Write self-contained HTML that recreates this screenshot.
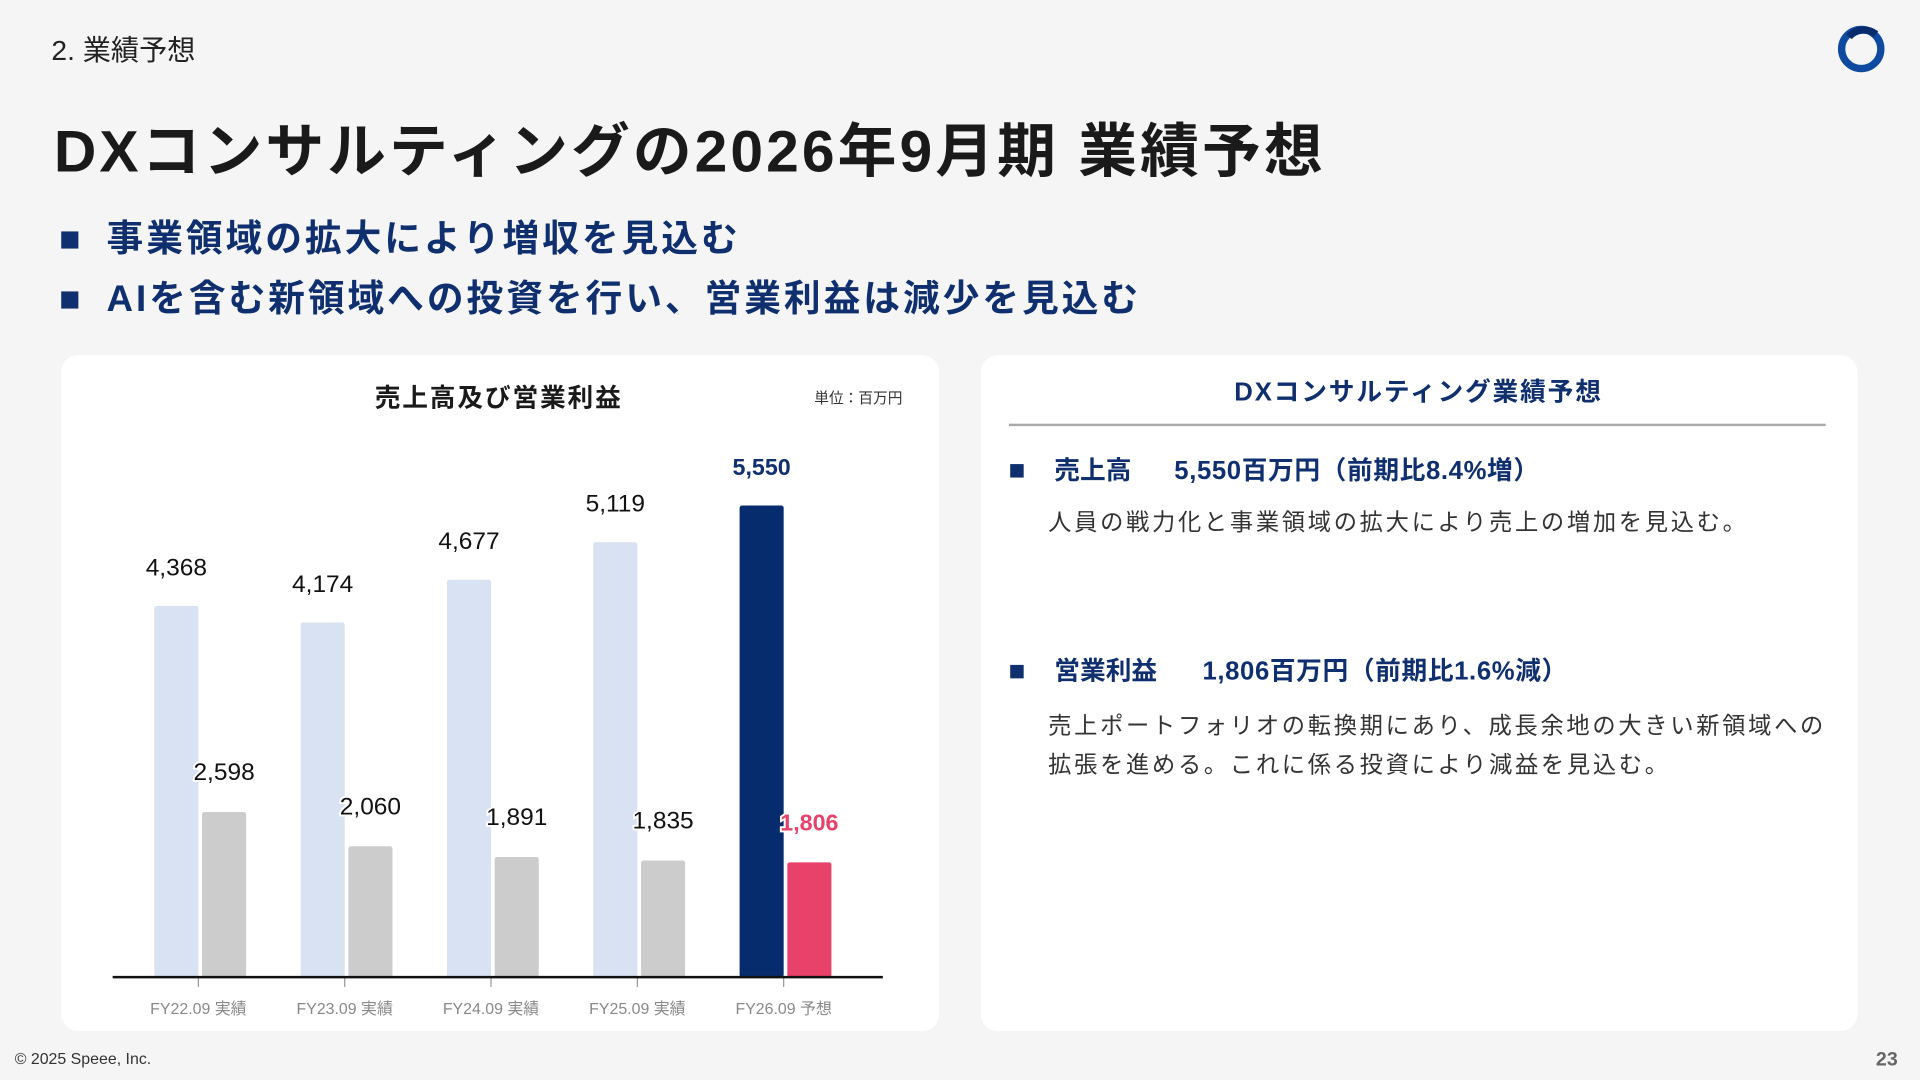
<!DOCTYPE html>
<html><head><meta charset="utf-8"><style>
html,body{margin:0;padding:0;width:1920px;height:1080px;overflow:hidden;background:#f5f5f5;}
#s{position:absolute;left:0;top:0;width:1568px;height:882px;transform:scale(1.22449);transform-origin:0 0;font-family:"Liberation Sans","Noto Sans CJK JP",sans-serif;}
.a{position:absolute;white-space:nowrap;}
.card{position:absolute;background:#fff;border-radius:14px;}
.sq{position:absolute;background:#0f2f6e;}
.navy{color:#0f2f6e;font-weight:bold;}
.body{font-size:19px;letter-spacing:2.2px;color:#333;}
</style></head><body>
<div id="s">
<div class="a" style="left:42px;top:22px;font-size:23px;color:#222;">2. 業績予想</div>
<svg class="a" style="left:1498px;top:18px" width="44" height="44" viewBox="0 0 44 44"><circle cx="22" cy="22" r="16" fill="none" stroke="#0d4aa0" stroke-width="6"/><path d="M12 12 A16 16 0 0 1 34 10" fill="none" stroke="#062c6e" stroke-width="6"/></svg>
<div class="a" style="left:44px;top:84px;font-size:48px;font-weight:bold;color:#1a1a1a;letter-spacing:2.5px;">DXコンサルティングの2026年9月期 業績予想</div>
<div class="sq" style="left:50px;top:189px;width:14px;height:14px"></div>
<div class="a navy" style="left:87px;top:170px;font-size:30px;letter-spacing:2.4px;">事業領域の拡大により増収を見込む</div>
<div class="sq" style="left:50px;top:238px;width:14px;height:14px"></div>
<div class="a navy" style="left:87px;top:219px;font-size:30px;letter-spacing:2.4px;">AIを含む新領域への投資を行い、営業利益は減少を見込む</div>

<div class="card" style="left:50px;top:290px;width:717px;height:552px"></div>
<div class="a" style="left:306px;top:309px;font-size:21px;font-weight:bold;color:#1a1a1a;letter-spacing:1.5px;">売上高及び営業利益</div>
<div class="a" style="left:665px;top:316px;font-size:12px;color:#333;">単位：百万円</div>
<svg id="chart" class="a" style="left:0;top:0" width="800" height="860"></svg>

<div class="card" style="left:801px;top:290px;width:716px;height:552px"></div>
<div class="a navy" style="left:1008px;top:304px;font-size:21px;letter-spacing:1.5px;">DXコンサルティング業績予想</div>
<div class="a" style="left:824px;top:346px;width:667px;height:2px;background:#aaa"></div>
<div class="sq" style="left:825px;top:379px;width:11px;height:11px"></div>
<div class="a navy" style="left:861px;top:368px;font-size:21px;">売上高</div>
<div class="a navy" style="left:959px;top:368px;font-size:21px;letter-spacing:0.5px;">5,550百万円（前期比8.4%増）</div>
<div class="a body" style="left:856px;top:412px;">人員の戦力化と事業領域の拡大により売上の増加を見込む。</div>
<div class="sq" style="left:825px;top:543px;width:11px;height:11px"></div>
<div class="a navy" style="left:861px;top:532px;font-size:21px;">営業利益</div>
<div class="a navy" style="left:982px;top:532px;font-size:21px;letter-spacing:0.5px;">1,806百万円（前期比1.6%減）</div>
<div class="a body" style="left:856px;top:578px;line-height:32px;">売上ポートフォリオの転換期にあり、成長余地の大きい新領域への<br>拡張を進める。これに係る投資により減益を見込む。</div>

<div class="a" style="left:12px;top:857px;font-size:13px;color:#333;">© 2025 Speee, Inc.</div>
<div class="a" style="left:1532px;top:857px;font-size:16px;font-weight:bold;color:#666;">23</div>
</div>
<script>
const categories=["FY22.09 実績","FY23.09 実績","FY24.09 実績","FY25.09 実績","FY26.09 予想"];
const revenue=[4368,4174,4677,5119,5550];
const profit=[2598,2060,1891,1835,1806];
const revLabels=["4,368","4,174","4,677","5,119","5,550"];
const profLabels=["2,598","2,060","1,891","1,835","1,806"];
const NS="http://www.w3.org/2000/svg";
const svg=document.getElementById('chart');
const base=798, x0=102, step=119.5, bw=36;
function revY(v){return base-v*0.0694;}
function profY(v){return base-v*0.0519;}
function xc(i){return x0+i*step+60;}
function mk(t,a){const e=document.createElementNS(NS,t);for(const k in a)e.setAttribute(k,a[k]);svg.appendChild(e);return e;}
categories.forEach((c,i)=>{
  const last=i===categories.length-1;
  const cx=xc(i);
  const r=mk('rect',{x:cx-36,y:revY(revenue[i]),width:bw,height:base-revY(revenue[i]),rx:2,fill:last?'#062c6e':'#d9e2f3'});
  
  
  const p=mk('rect',{x:cx+3,y:profY(profit[i]),width:bw,height:base-profY(profit[i]),rx:2,fill:last?'#e8416a':'#cccccc'});
  
  
  const rl=mk('text',{x:cx-18,y:revY(revenue[i])-25,'text-anchor':'middle','font-size':last?19:20,'font-weight':last?'bold':'normal',fill:last?'#0f2f6e':'#111','font-family':'Liberation Sans, sans-serif'});
  rl.textContent=revLabels[i];
  
  
  const pl=mk('text',{x:cx+21,y:profY(profit[i])-26,'text-anchor':'middle','font-size':last?19:20,'font-weight':last?'bold':'normal',fill:last?'#e8416a':'#111',stroke:'#fff','stroke-width':3,'paint-order':'stroke','font-family':'Liberation Sans, sans-serif'});
  pl.textContent=profLabels[i];
  
  
  const tk=mk('line',{x1:cx,x2:cx,y1:base,y2:base+8,stroke:'#999','stroke-width':1});
  
  
  const xl=mk('text',{x:cx,y:base+30,'text-anchor':'middle','font-size':13,fill:'#888','font-family':'Liberation Sans, Noto Sans CJK JP, sans-serif'});
  xl.textContent=c;
  
  
});
const ax=mk('line',{x1:92,x2:721,y1:base,y2:base,stroke:'#111','stroke-width':2});


</script>
</body></html>
